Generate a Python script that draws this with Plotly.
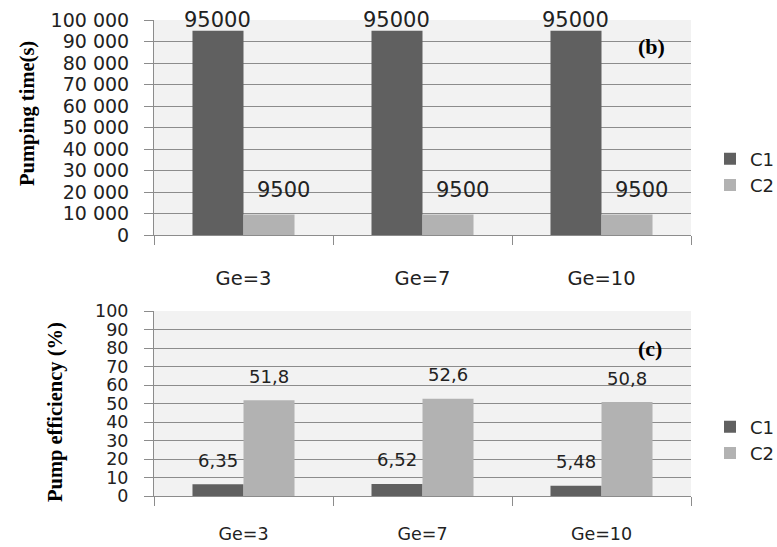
import plotly.graph_objects as go
from plotly.subplots import make_subplots

categories = ["Ge=3", "Ge=7", "Ge=10"]
series_names = ["C1", "C2"]
time_c1 = [95000, 95000, 95000]
time_c2 = [9500, 9500, 9500]
eff_c1 = [6.35, 6.52, 5.48]
eff_c2 = [51.8, 52.6, 50.8]

C1_COLOR = "#606060"
C2_COLOR = "#b2b2b2"
GRID = "#8c8c8c"
BG = "#f2f2f2"
BARGAP = 0.43
SANS = "DejaVu Sans"
SERIF = "Liberation Serif"
TXT = "#222"

fig = make_subplots(rows=2, cols=1)

fig.add_trace(go.Bar(x=categories, y=time_c1, name=series_names[0], marker_color=C1_COLOR,
                     marker_line_width=0, legend="legend"), row=1, col=1)
fig.add_trace(go.Bar(x=categories, y=time_c2, name=series_names[1], marker_color=C2_COLOR,
                     marker_line_width=0, legend="legend"), row=1, col=1)
fig.add_trace(go.Bar(x=categories, y=eff_c1, name=series_names[0], marker_color=C1_COLOR,
                     marker_line_width=0, legend="legend2"), row=2, col=1)
fig.add_trace(go.Bar(x=categories, y=eff_c2, name=series_names[1], marker_color=C2_COLOR,
                     marker_line_width=0, legend="legend2"), row=2, col=1)

half = (1 - BARGAP) / 4  # bar center offset from category center, in category units

def fmt_int(v):
    return str(int(v))

def fmt_dec(v):
    return f"{v}".replace(".", ",")

annotations = []
for i, v in enumerate(time_c1):
    annotations.append(dict(x=i - half, y=v, xref="x", yref="y", text=fmt_int(v), showarrow=False,
                            xanchor="center", yanchor="middle", yshift=11,
                            font=dict(family=SANS, size=21, color=TXT)))
for i, v in enumerate(time_c2):
    annotations.append(dict(x=i + half, y=v, xref="x", yref="y", text=fmt_int(v), showarrow=False,
                            xanchor="center", yanchor="middle", xshift=14, yshift=25,
                            font=dict(family=SANS, size=21, color=TXT)))
for i, v in enumerate(eff_c1):
    annotations.append(dict(x=i - half, y=v, xref="x2", yref="y2", text=fmt_dec(v), showarrow=False,
                            xanchor="center", yanchor="middle", yshift=24,
                            font=dict(family=SANS, size=18, color=TXT)))
for i, v in enumerate(eff_c2):
    annotations.append(dict(x=i + half, y=v, xref="x2", yref="y2", text=fmt_dec(v), showarrow=False,
                            xanchor="center", yanchor="middle", yshift=24,
                            font=dict(family=SANS, size=18, color=TXT)))

annotations += [
    dict(x=27 / 777, y=(547 - 114) / 547, xref="paper", yref="paper", text="<b>Pumping time(s)</b>",
         textangle=-90, xanchor="center", yanchor="middle",
         showarrow=False, font=dict(family=SERIF, size=20.5, color="black")),
    dict(x=55 / 777, y=(547 - 412) / 547, xref="paper", yref="paper", text="<b>Pump efficiency (%)</b>",
         textangle=-90, xanchor="center", yanchor="middle",
         showarrow=False, font=dict(family=SERIF, size=20.5, color="black")),
    dict(x=651 / 777, y=(547 - 47) / 547, xref="paper", yref="paper", text="<b>(b)</b>",
         xanchor="center", yanchor="middle",
         showarrow=False, font=dict(family=SERIF, size=22, color="black")),
    dict(x=650 / 777, y=(547 - 348) / 547, xref="paper", yref="paper", text="<b>(c)</b>",
         xanchor="center", yanchor="middle",
         showarrow=False, font=dict(family=SERIF, size=22, color="black")),
]

xdom = [154 / 777, 691 / 777]
common_x = dict(showgrid=False, showline=True, linecolor=GRID, linewidth=1, ticks="outside",
                tickson="boundaries", ticklen=9, tickcolor=GRID, tickwidth=1, domain=xdom,
                automargin=False)
common_y = dict(showgrid=True, gridcolor=GRID, gridwidth=1, showline=True, linecolor=GRID,
                linewidth=1, ticks="outside", ticklen=9, tickcolor=GRID, tickwidth=1, zeroline=False,
                automargin=False)

fig.update_layout(
    width=777, height=547,
    margin=dict(l=0, r=0, t=0, b=0, autoexpand=False),
    paper_bgcolor="white",
    plot_bgcolor=BG,
    barmode="group",
    bargap=BARGAP,
    bargroupgap=0,
    separators=", ",
    font=dict(family=SANS, color=TXT),
    showlegend=True,
    xaxis=dict(**common_x, anchor="y", ticklabelstandoff=26,
               tickfont=dict(family=SANS, size=19.5, color=TXT)),
    xaxis2=dict(**common_x, anchor="y2", ticklabelstandoff=22,
                tickfont=dict(family=SANS, size=17.5, color=TXT)),
    yaxis=dict(**common_y, domain=[(547 - 235) / 547, (547 - 20) / 547], range=[0, 100000],
               dtick=10000, tickformat=",d", ticklabelstandoff=11,
               tickfont=dict(family=SANS, size=19, color=TXT)),
    yaxis2=dict(**common_y, domain=[(547 - 496) / 547, (547 - 311) / 547], range=[0, 100],
                dtick=10, ticklabelstandoff=12,
                tickfont=dict(family=SANS, size=17.5, color=TXT)),
    legend=dict(x=710 / 777, y=(547 - 172) / 547, xanchor="left", yanchor="middle",
                bgcolor="rgba(0,0,0,0)", font=dict(family=SANS, size=18, color=TXT),
                tracegroupgap=0, itemclick=False),
    legend2=dict(x=710 / 777, y=(547 - 440) / 547, xanchor="left", yanchor="middle",
                 bgcolor="rgba(0,0,0,0)", font=dict(family=SANS, size=18, color=TXT),
                 tracegroupgap=0, itemclick=False),
    annotations=annotations,
)

fig.write_html("out.html")
